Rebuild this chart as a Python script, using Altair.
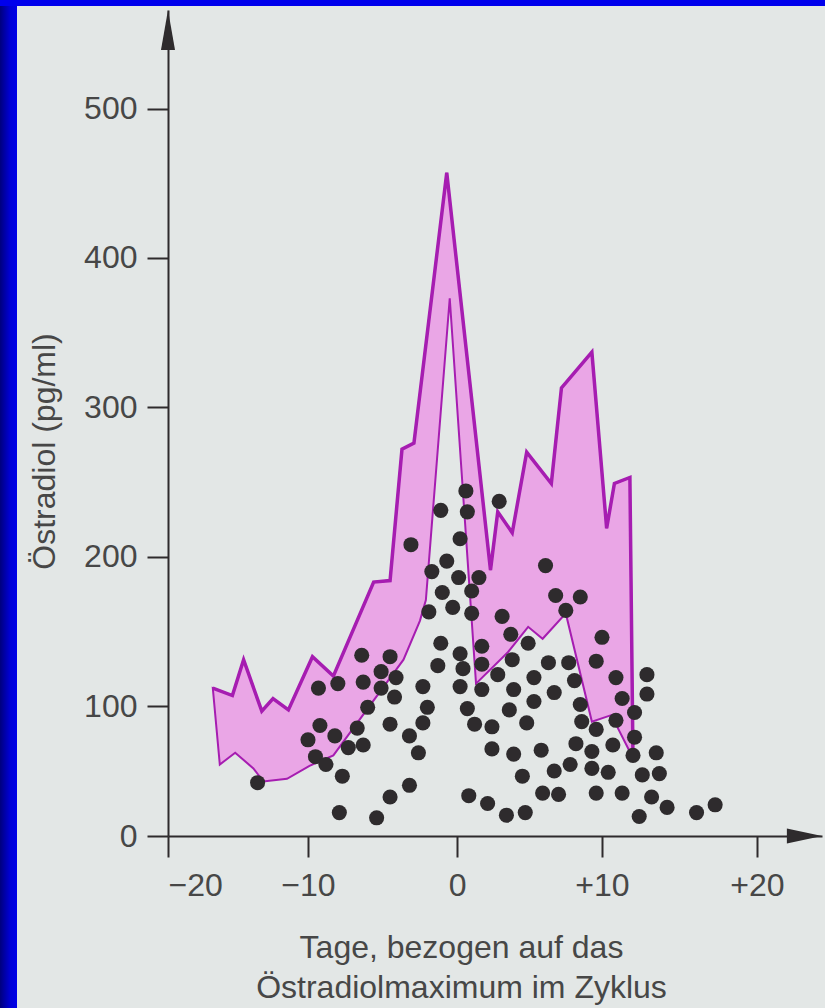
import altair as alt
import pandas as pd

# Einzelmessungen: Tage relativ zum Östradiolmaximum und Östradiol (pg/ml)
tage = [-13.6, -9.3, -8.0, -9.2, -10.0, -8.2, -9.5, -8.8, -7.7, -7.9,
        -6.4, -4.5, -5.1, -4.1, -6.3, -5.1, -4.2, -6.0, -6.7, -7.3,
        -6.3, -5.4, -4.5, -3.2, -4.5, -3.2, -2.6, -2.3, -2.0, -2.3,
        -1.3, 0.2, 0.4, 0.2, 0.7, 0.8, -3.1, -1.1, 0.6, 0.7,
        0.2, -0.7, -1.7, 0.1, -1.0, 1.0, -0.3, -1.9, 1.0, -1.1,
        2.9, 1.5, 6.1, 6.8, 8.5, 7.5, 3.1, 3.7, 1.7, 4.9,
        10.0, 1.7, 3.8, 6.3, 7.7, 9.6, 12.9, 12.9, 2.8, 5.3,
        8.1, 10.9, 1.7, 3.9, 6.7, 5.3, 8.5, 11.3, 12.1, 3.6,
        4.8, 8.6, 10.9, 1.2, 2.4, 9.6, 12.1, 8.2, 10.7, 2.4,
        3.9, 5.8, 9.3, 12.0, 13.5, 7.8, 6.7, 9.3, 10.4, 12.6,
        13.7, 4.5, 2.1, 5.9, 7.0, 9.6, 11.3, 13.2, 14.2, 3.4,
        4.7, 12.4, 16.1, 17.3]
oestradiol = [41, 112, 115, 85, 74, 77, 61, 55, 46, 18,
              134, 133, 123, 119, 116, 112, 106, 99, 83, 68,
              70, 14, 30, 39, 86, 77, 64, 113, 99, 87,
              127, 135, 125, 113, 98, 31, 208, 231, 244, 230,
              212, 197, 190, 186, 176, 177, 166, 163, 162, 142,
              237, 186, 194, 174, 173, 164, 160, 148, 140, 142,
              146, 128, 131, 129, 129, 130, 121, 108, 121, 119,
              117, 119, 111, 111, 109, 103, 101, 105, 95, 97,
              87, 88, 89, 86, 84, 82, 76, 71, 70, 67,
              63, 66, 65, 62, 64, 55, 50, 52, 49, 47,
              48, 46, 25, 33, 32, 33, 33, 30, 22, 16,
              18, 15, 18, 24]

# Obere Grenze des Normbereichs (links nach rechts, endet in der rechten unteren Ecke)
oben_tag = [-16.8, -15.4, -14.6, -13.3, -12.5, -11.4, -9.7, -8.3, -5.6, -4.5,
            -3.7, -2.9, -0.7, 2.3, 2.8, 3.8, 4.8, 6.5, 7.2, 9.3,
            10.3, 10.8, 11.8, 12.0]
oben_wert = [112, 107, 131, 96, 105, 97, 133, 120, 183, 184,
             272, 276, 457, 191, 230, 216, 270, 249, 313, 337,
             219, 249, 253, 60]

# Untere Grenze des Normbereichs (links nach rechts)
unten_tag = [-16.3, -15.2, -13.9, -13.2, -11.5, -9.9, -8.3, -3.6, -2.5, -2.1,
             -0.5, 1.3, 3.5, 4.9, 5.9, 7.5, 9.3, 10.6, 12.0]
unten_wert = [55, 64, 52, 42, 44, 54, 62, 131, 157, 171,
              373, 115, 136, 153, 145, 162, 88, 93, 60]

x_ticks = [-20, -10, 0, 10, 20]
y_ticks = [0, 100, 200, 300, 400, 500]

PAPIER = "#e3e7e6"
INK = "#2e2b2d"
TEXT = "#474747"
FONT = "Liberation Sans"
W, H = 654, 826

xscale = alt.Scale(domain=[-20, -10, 0, 10, 20, 24.2],
                   range=[0, 140, 289.2, 434, 589, 654], nice=False, zero=False)
yscale = alt.Scale(domain=[0, 100, 566], range=[826, 696, 0], nice=False, zero=False)

xaxis = alt.Axis(
    values=x_ticks,
    labelExpr="datum.value > 0 ? '+' + datum.value + '\u00a0\u00a0' : "
              "(datum.value < 0 ? '\u2212' + abs(datum.value) + '\u00a0\u00a0' : '0')",
    grid=False, domainColor=INK, domainWidth=2, tickColor=INK, tickWidth=2, tickSize=21,
    labelFont=FONT, labelFontSize=32, labelColor=TEXT, labelPadding=13, labelOverlap=False,
    title=["Tage, bezogen auf das", "Östradiolmaximum im Zyklus"],
    titleFont=FONT, titleFontSize=32, titleFontWeight="normal", titleColor=TEXT,
    titleX=293, titleY=121, titleAlign="center", titleBaseline="alphabetic",
    titleLineHeight=40,
)
yaxis = alt.Axis(
    values=y_ticks, grid=False, domainColor=INK, domainWidth=2, tickColor=INK, tickWidth=2,
    tickSize=21, labelFont=FONT, labelFontSize=32, labelColor=TEXT, labelPadding=10,
    labelOverlap=False,
    title="Östradiol (pg/ml)", titleFont=FONT, titleFontSize=32, titleFontWeight="normal",
    titleColor=TEXT, titleAngle=270, titleX=-114, titleY=441, titleAlign="center",
    titleBaseline="alphabetic",
)


def enc(**extra):
    return dict(x=alt.X("tag:Q", scale=xscale, axis=xaxis),
                y=alt.Y("wert:Q", scale=yscale, axis=yaxis), **extra)


# Normbereich als geschlossenes Polygon: obere Kurve hin, untere Kurve zurück
poly_tag = oben_tag + unten_tag[-2::-1]
poly_wert = oben_wert + unten_wert[-2::-1]
band_df = pd.DataFrame({"tag": poly_tag, "wert": poly_wert, "i": range(len(poly_tag))})
oben_df = pd.DataFrame({"tag": oben_tag, "wert": oben_wert, "i": range(len(oben_tag))})
punkte_df = pd.DataFrame({"tag": tage, "wert": oestradiol})

band = alt.Chart(band_df).mark_line(
    interpolate="linear-closed", fill="#eaa6e6", stroke="#a61db1", strokeWidth=2,
    strokeJoin="miter",
).encode(**enc(order=alt.Order("i:Q")))

oben = alt.Chart(oben_df).mark_line(
    stroke="#a61db1", strokeWidth=3.5, strokeJoin="miter",
).encode(**enc(order=alt.Order("i:Q")))

punkte = alt.Chart(punkte_df).mark_circle(
    size=228, color=INK, opacity=1,
).encode(**enc())

# Pfeilspitzen an den Achsenenden
pfeil_y = alt.Chart(pd.DataFrame({"tag": [-20], "wert": [566]})).mark_point(
    shape="M0,0L0.37,2.1L-0.37,2.1Z", size=1444, filled=True, fill=INK, strokeWidth=0,
    opacity=1,
).encode(**enc())
pfeil_x = alt.Chart(pd.DataFrame({"tag": [24.2], "wert": [0]})).mark_point(
    shape="M0,0L-1.85,-0.4L-1.85,0.4Z", size=1444, filled=True, fill=INK, strokeWidth=0,
    opacity=1,
).encode(**enc())

# Blauer Folienrahmen links und oben
rahmen_df = pd.DataFrame({"k": [0]})
rahmen_links = alt.Chart(rahmen_df).mark_rect(
    color=alt.Gradient(gradient="linear",
                       stops=[alt.GradientStop(color="#00007e", offset=0),
                              alt.GradientStop(color="#0000d6", offset=0.6),
                              alt.GradientStop(color="#0000e8", offset=1)],
                       x1=0, x2=1, y1=0, y2=0),
).encode(x=alt.value(-168), x2=alt.value(-151), y=alt.value(-10), y2=alt.value(998))
rahmen_oben = alt.Chart(rahmen_df).mark_rect(color="#0000ec").encode(
    x=alt.value(-168), x2=alt.value(657), y=alt.value(-10), y2=alt.value(-4))

chart = alt.layer(
    band, oben, punkte, pfeil_y, pfeil_x, rahmen_links, rahmen_oben,
).properties(
    width=W, height=H, background=PAPIER,
    padding={"left": 168, "top": 10, "right": 3, "bottom": 172},
    autosize=alt.AutoSizeParams(type="none"),
).configure_view(stroke=None)

chart.save("out.html", embed_options={"renderer": "svg", "actions": False})
